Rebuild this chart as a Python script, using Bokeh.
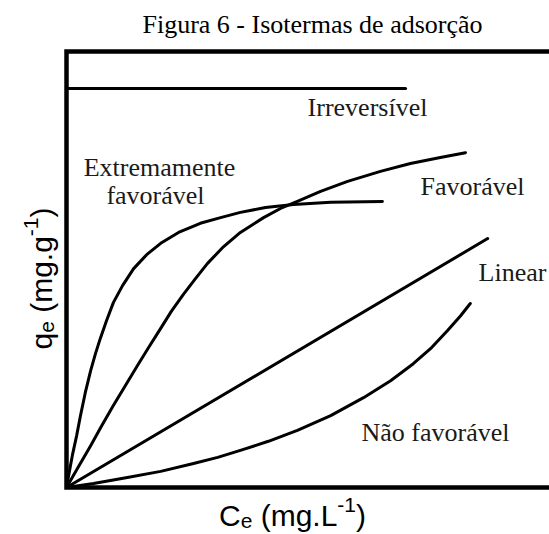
import math

from bokeh.core.properties import value
from bokeh.embed import file_html
from bokeh.models import Range1d
from bokeh.plotting import figure
from bokeh.resources import INLINE

# --- isotherm data: equilibrium concentration Ce vs. adsorbed amount qe (arbitrary units, 0..10) ---
irrev_ce = [0.0, 7.02]
irrev_qe = [9.15, 9.15]

extreme_ce = [0.0, 0.06, 0.12, 0.21, 0.29, 0.39, 0.50, 0.60, 0.70, 0.83, 0.97, 1.16,
              1.39, 1.66, 1.95, 2.32, 2.77, 3.19, 3.60, 4.12, 4.70, 5.47, 6.54]
extreme_qe = [0.0, 0.37, 0.73, 1.19, 1.65, 2.18, 2.68, 3.07, 3.42, 3.83, 4.24, 4.63,
              5.02, 5.34, 5.60, 5.85, 6.06, 6.19, 6.31, 6.42, 6.49, 6.54, 6.56]

fav_ce = [0.0, 0.25, 0.50, 0.72, 0.97, 1.22, 1.47, 1.70, 1.95, 2.17, 2.42, 2.67,
          2.92, 3.23, 3.60, 4.08, 4.43, 4.78, 5.26, 5.82, 6.50, 7.12, 7.74, 8.26]
fav_qe = [0.0, 0.48, 0.96, 1.40, 1.88, 2.34, 2.80, 3.21, 3.65, 4.04, 4.43, 4.79,
          5.14, 5.50, 5.85, 6.19, 6.40, 6.56, 6.79, 7.02, 7.25, 7.43, 7.57, 7.68]

linear_ce = [0.0, 8.72]
linear_qe = [0.0, 5.71]

unfav_ce = [0.0, 0.56, 1.26, 1.95, 2.63, 3.13, 3.60, 4.18, 4.78, 5.47, 6.15, 6.71,
            7.18, 7.56, 7.89, 8.16, 8.36]
unfav_qe = [0.0, 0.09, 0.23, 0.37, 0.55, 0.69, 0.85, 1.06, 1.31, 1.65, 2.06, 2.45,
            2.84, 3.21, 3.60, 3.94, 4.22]

curve_names = ["Irreversível", "Extremamente", "favorável", "Favorável", "Linear", "Não favorável"]
title_text = "Figura 6 - Isotermas de adsorção"

# --- page geometry (pixels) ---
W, H = 549, 534
BOX_L, BOX_R, BOX_T, BOX_B = 66, 549, 51, 487
SX = (BOX_R - BOX_L) / 10.0   # px per Ce unit
SY = (BOX_B - BOX_T) / 10.0   # px per qe unit
TEXT_DY = -8                  # baseline correction for horizontal texts (px)


def cx(px):
    return (px - BOX_L) / SX


def cy(py):
    return (BOX_B - py) / SY


p = figure(
    width=W, height=H,
    x_range=Range1d(cx(0), cx(W)), y_range=Range1d(cy(H), cy(0)),
    x_axis_location=None, y_axis_location=None,
    toolbar_location=None, output_backend="svg",
    min_border=0, min_border_left=0, min_border_right=0,
    min_border_top=0, min_border_bottom=0,
    outline_line_color=None,
    background_fill_color="white", border_fill_color="white",
)
p.grid.grid_line_color = None

# axis box: top, left and bottom edges
edge = cx(W) + 0.2
p.line(x=[edge, 0, 0, edge], y=[10, 10, 0, 0], line_color="black",
       line_width=4.5, line_join="miter", line_cap="butt")

# isotherm curves
for xs, ys in [(irrev_ce, irrev_qe), (extreme_ce, extreme_qe), (fav_ce, fav_qe),
               (linear_ce, linear_qe), (unfav_ce, unfav_qe)]:
    p.line(x=xs, y=ys, line_color="black", line_width=3,
           line_join="round", line_cap="round")

SERIF = value("Liberation Serif")
SANS = value("Liberation Sans")

# curve labels: centre of baseline, in pixels of the page
label_px = {
    "Irreversível": (367, 115),
    "Extremamente": (159, 175),
    "favorável": (155, 203),
    "Favorável": (472, 194),
    "Linear": (512, 280),
    "Não favorável": (435, 440),
}
p.text(x=[cx(label_px[n][0]) for n in curve_names],
       y=[cy(label_px[n][1] + TEXT_DY) for n in curve_names],
       text=curve_names, text_font=SERIF, text_font_size="26px", text_color="#1a1a1a",
       text_align="center", text_baseline="alphabetic")

# title
p.text(x=[cx(312)], y=[cy(32 + TEXT_DY)], text=[title_text], text_font=SERIF,
       text_font_size="26px", text_color="black",
       text_align="center", text_baseline="alphabetic")

# axis titles built from pieces (sub/superscripts)
ADV = {"C": 722, "e": 556, " ": 278, "(": 333, "m": 833, "g": 556, ".": 278,
       "L": 556, "-": 333, "1": 556, ")": 333, "q": 556}
BIG, SMALL = 30, 21
SHIFT = {"n": 0, "sub": 5, "sup": -11}


def advance(t, size):
    return sum(ADV[c] for c in t) / 1000.0 * size


def rich(pieces, centre_px, base_px, vertical=False):
    total = sum(advance(t, BIG if k == "n" else SMALL) for t, k in pieces)
    cursor = centre_px - total / 2 if not vertical else centre_px + total / 2
    for t, k in pieces:
        size = BIG if k == "n" else SMALL
        if t.strip():
            if vertical:
                x, y, ang = cx(base_px + SHIFT[k]), cy(cursor), math.pi / 2
            else:
                x, y, ang = cx(cursor), cy(base_px + SHIFT[k] + TEXT_DY), 0
            p.text(x=[x], y=[y], text=[t], angle=ang, text_font=SANS,
                   text_font_size=f"{size}px", text_color="black",
                   text_align="left", text_baseline="alphabetic")
        step = advance(t, size)
        cursor = cursor + step if not vertical else cursor - step


x_title = [("C", "n"), ("e", "sub"), (" ", "n"), ("(mg.L", "n"), ("-1", "sup"), (")", "n")]
y_title = [("q", "n"), ("e", "sub"), (" ", "n"), ("(mg.g", "n"), ("-1", "sup"), (")", "n")]
rich(x_title, 292, 523)
rich(y_title, 278, 41, vertical=True)

open("out.html", "w").write(file_html(p, INLINE))
